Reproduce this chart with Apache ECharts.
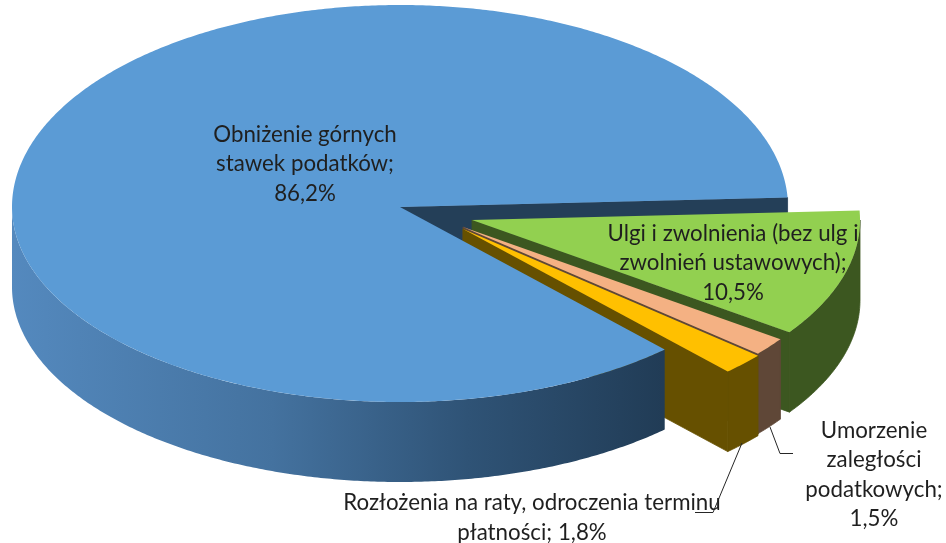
<!DOCTYPE html>
<html><head><meta charset="utf-8">
<style>html,body{margin:0;padding:0;background:#fff}#c{width:946px;height:543px}</style>
<script src="https://cdn.jsdelivr.net/npm/echarts@6/dist/echarts.min.js"></script>
</head><body><div id="c"></div>
<script>
// Data
const categories = ['Ulgi i zwolnienia (bez ulg i zwolnień ustawowych)', 'Umorzenie zaległości podatkowych', 'Rozłożenia na raty, odroczenia terminu płatności', 'Obniżenie górnych stawek podatków'];
const values = [10.5, 1.5, 1.8, 86.2];
const labelLines = [
  ['Ulgi i zwolnienia (bez ulg i', 'zwolnień ustawowych);', '10,5%'],
  ['Umorzenie', 'zaległości', 'podatkowych;', '1,5%'],
  ['Rozłożenia na raty, odroczenia terminu', 'płatności; 1,8%'],
  ['Obniżenie górnych', 'stawek podatków;', '86,2%']
];

// Projection and styles
const START = -2.7, RX = 388, RY_BACK = 202, RY_FRONT = 195, DEPTH = 80;
const centers = [[472, 220], [463, 227], [463, 229], [400, 207]];
const tops = ['#92D050', '#F4B183', '#FFC000', '#5B9BD5'];
const sides = ['#3C5720', '#5F4737', '#665000', '#243F58'];
const labelPos = [[733, 263], [874, 475], [532, 518], [305, 164]];
const blueRim = new echarts.graphic.LinearGradient(12, 0, 663, 0, [
  {offset: 0, color: '#5489BE'}, {offset: 0.4, color: '#44729F'},
  {offset: 0.7, color: '#2F5376'}, {offset: 1, color: '#213C56'}], true);

const total = values.reduce((a, b) => a + b, 0);
const spans = []; let acc = START;
values.forEach(v => { const s = acc, e = acc + v / total * 360; spans.push([s, e]); acc = e; });

function pt(c, deg, dz) {
  const r = deg * Math.PI / 180, sn = Math.sin(r);
  return [c[0] + RX * Math.cos(r), c[1] + (sn >= 0 ? RY_FRONT : RY_BACK) * sn + (dz || 0)];
}
function arc(c, a, b, dz) {
  const out = [], n = Math.max(2, Math.ceil(Math.abs(b - a) * 2));
  for (let i = 0; i <= n; i++) out.push(pt(c, a + (b - a) * i / n, dz));
  return out;
}
function poly(points, fill, edge) {
  return {type: 'polygon', shape: {points}, style: {fill, stroke: edge || null, lineWidth: edge ? 0.8 : 0}};
}
// paint rows: [slice, part], part 0 = cut wall only, 1 = rim + wall + top, 2 = rim + top
const paintRows = [[3, 0], [0, 1], [1, 1], [2, 1], [3, 2]];

function renderItem(params, api) {
  const i = api.value(0), part = api.value(1), c = centers[i], s = spans[i], children = [];
  const wall = () => {
    const p = pt(c, s[1]);
    children.push(poly([c, p, [p[0], p[1] + DEPTH], [c[0], c[1] + DEPTH]], sides[i], sides[i]));
  };
  if (part === 0) { wall(); return {type: 'group', children}; }
  const ra = Math.max(s[0], 0), rb = Math.min(s[1], 180);
  if (rb > ra) {
    const upper = arc(c, ra, rb, 0), lower = arc(c, rb, ra, DEPTH);
    children.push(poly(upper.concat(lower), i === 3 ? blueRim : sides[i], i === 3 ? null : sides[i]));
  }
  if (part === 1) wall();
  children.push(poly([c].concat(arc(c, s[0], s[1], 0)), tops[i]));
  return {type: 'group', children};
}

const textEls = labelLines.map((lines, i) => ({
  type: 'text', x: labelPos[i][0], y: labelPos[i][1], z: 10,
  style: {text: lines.join('\n'), align: 'center', verticalAlign: 'middle',
    font: '22.3px Lato', lineHeight: 29.5, fill: '#1f1f1f'}
}));
const leaders = [
  [[742, 443], [713, 512.5], [695, 512.5]],
  [[770, 427], [780, 453.5], [793, 453.5]]
].map(points => ({type: 'polyline', z: 9, shape: {points}, style: {stroke: '#262626', lineWidth: 1, fill: null}}));

const chart = echarts.init(document.getElementById('c'), null, {renderer: 'canvas'});
chart.setOption({
  animation: false,
  backgroundColor: '#ffffff',
  series: [{type: 'custom', coordinateSystem: 'none', renderItem, data: paintRows, silent: true}],
  graphic: {elements: leaders.concat(textEls)}
});
</script></body></html>
